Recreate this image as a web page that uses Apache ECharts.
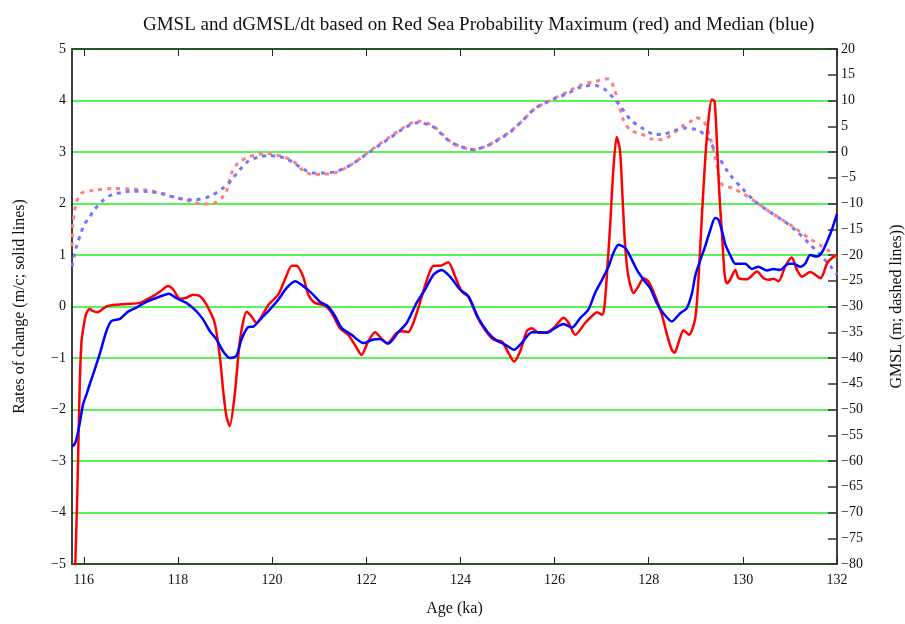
<!DOCTYPE html>
<html>
<head>
<meta charset="utf-8">
<script src="https://cdn.jsdelivr.net/npm/echarts@6/dist/echarts.min.js"></script>
<style>
  html, body { margin: 0; padding: 0; background: #fff; overflow: hidden; width: 905px; height: 624px; }
  #chart { width: 905px; height: 624px; }
</style>
</head>
<body>
<div id="chart"></div>
<script>
// Age axis tick positions (ka)
const ageTicks = [116, 118, 120, 122, 124, 126, 128, 130, 132];

// dGMSL/dt, probability maximum (m per century)
const maxRateAge = [115.78, 115.82, 115.86, 115.89, 115.915, 115.95, 115.985, 116.02, 116.06, 116.13, 116.2, 116.3, 116.4, 116.48, 116.62, 116.91, 117.19, 117.47, 117.62, 117.79, 117.9, 118.04, 118.18, 118.32, 118.47, 118.61, 118.78, 118.89, 118.96, 119.03, 119.1, 119.21, 119.32, 119.46, 119.56, 119.67, 119.78, 119.92, 120.13, 120.27, 120.42, 120.52, 120.66, 120.77, 120.91, 121.12, 121.27, 121.44, 121.62, 121.8, 121.9, 122.04, 122.19, 122.33, 122.44, 122.65, 122.79, 122.89, 123.0, 123.14, 123.29, 123.43, 123.57, 123.74, 123.89, 124.03, 124.17, 124.35, 124.52, 124.7, 124.88, 125.02, 125.14, 125.27, 125.41, 125.52, 125.66, 125.84, 126.01, 126.19, 126.3, 126.44, 126.65, 126.79, 126.9, 127.01, 127.06, 127.11, 127.18, 127.25, 127.32, 127.39, 127.44, 127.5, 127.57, 127.68, 127.78, 127.89, 127.99, 128.14, 128.28, 128.39, 128.49, 128.55, 128.63, 128.74, 128.86, 128.99, 129.06, 129.13, 129.2, 129.27, 129.34, 129.4, 129.45, 129.5, 129.56, 129.61, 129.66, 129.73, 129.84, 129.91, 130.09, 130.3, 130.44, 130.55, 130.65, 130.76, 130.9, 131.04, 131.15, 131.26, 131.43, 131.65, 131.79, 131.93, 132.0];
const maxRate = [-6.5, -5.0, -3.75, -2.5, -1.48, -0.7, -0.45, -0.26, -0.12, -0.05, -0.09, -0.11, -0.05, 0.0, 0.03, 0.05, 0.07, 0.2, 0.29, 0.4, 0.33, 0.15, 0.17, 0.23, 0.2, 0.03, -0.32, -0.97, -1.62, -2.13, -2.32, -1.68, -0.64, -0.1, -0.19, -0.32, -0.19, 0.03, 0.23, 0.52, 0.79, 0.79, 0.58, 0.23, 0.07, 0.02, -0.13, -0.42, -0.55, -0.81, -0.94, -0.68, -0.5, -0.63, -0.72, -0.51, -0.48, -0.5, -0.32, 0.07, 0.52, 0.79, 0.79, 0.86, 0.58, 0.29, 0.19, -0.19, -0.45, -0.64, -0.68, -0.9, -1.07, -0.87, -0.48, -0.42, -0.51, -0.5, -0.39, -0.22, -0.32, -0.55, -0.32, -0.19, -0.11, -0.16, 0.0, 0.58, 1.56, 2.66, 3.29, 3.04, 2.2, 1.17, 0.58, 0.26, 0.39, 0.55, 0.49, 0.2, -0.16, -0.55, -0.84, -0.9, -0.71, -0.46, -0.55, -0.22, 0.58, 1.75, 2.85, 3.63, 4.02, 3.98, 3.17, 2.2, 1.36, 0.65, 0.45, 0.52, 0.71, 0.55, 0.53, 0.68, 0.55, 0.52, 0.54, 0.49, 0.78, 0.95, 0.71, 0.58, 0.67, 0.55, 0.84, 0.97, 1.0];

// dGMSL/dt, probability median (m per century)
const medRateAge = [115.75, 115.8, 115.84, 115.915, 115.985, 116.06, 116.13, 116.23, 116.34, 116.48, 116.59, 116.77, 116.94, 117.12, 117.33, 117.58, 117.81, 117.97, 118.18, 118.39, 118.54, 118.68, 118.82, 118.96, 119.1, 119.24, 119.35, 119.49, 119.6, 119.78, 119.95, 120.13, 120.31, 120.49, 120.63, 120.84, 121.02, 121.19, 121.34, 121.48, 121.69, 121.94, 122.15, 122.29, 122.47, 122.68, 122.86, 123.07, 123.25, 123.43, 123.6, 123.78, 123.99, 124.17, 124.38, 124.59, 124.77, 124.95, 125.14, 125.3, 125.52, 125.68, 125.84, 126.01, 126.19, 126.37, 126.55, 126.72, 126.86, 127.01, 127.15, 127.25, 127.36, 127.5, 127.61, 127.75, 127.89, 128.03, 128.17, 128.31, 128.49, 128.67, 128.81, 128.92, 128.99, 129.1, 129.2, 129.31, 129.41, 129.48, 129.56, 129.63, 129.73, 129.84, 130.05, 130.19, 130.33, 130.51, 130.65, 130.79, 130.97, 131.08, 131.22, 131.33, 131.43, 131.57, 131.68, 131.79, 131.89, 132.0];
const medRate = [-2.72, -2.68, -2.59, -2.26, -1.9, -1.7, -1.5, -1.23, -0.92, -0.48, -0.28, -0.24, -0.1, -0.02, 0.09, 0.18, 0.25, 0.16, 0.07, -0.09, -0.26, -0.48, -0.64, -0.87, -1.0, -0.96, -0.64, -0.4, -0.39, -0.22, -0.06, 0.13, 0.36, 0.49, 0.42, 0.26, 0.09, 0.0, -0.19, -0.42, -0.55, -0.71, -0.64, -0.63, -0.72, -0.5, -0.32, 0.07, 0.33, 0.62, 0.71, 0.58, 0.33, 0.2, -0.22, -0.51, -0.66, -0.74, -0.84, -0.71, -0.5, -0.5, -0.51, -0.42, -0.34, -0.41, -0.22, -0.06, 0.26, 0.52, 0.78, 1.04, 1.2, 1.14, 0.97, 0.71, 0.52, 0.36, 0.07, -0.13, -0.29, -0.13, -0.03, 0.26, 0.6, 0.91, 1.17, 1.49, 1.72, 1.69, 1.46, 1.2, 1.0, 0.83, 0.83, 0.73, 0.77, 0.7, 0.73, 0.71, 0.83, 0.83, 0.77, 0.84, 1.0, 0.97, 1.05, 1.26, 1.49, 1.8];

// GMSL, probability maximum (m)
const maxLevelAge = [115.75, 115.77, 115.84, 115.95, 116.2, 116.62, 116.98, 117.4, 117.83, 118.15, 118.54, 118.75, 118.93, 119.03, 119.14, 119.28, 119.49, 119.67, 119.88, 120.06, 120.27, 120.49, 120.66, 120.87, 121.09, 121.34, 121.62, 121.83, 122.04, 122.26, 122.5, 122.82, 123.1, 123.4, 123.61, 123.78, 123.99, 124.28, 124.56, 124.74, 125.06, 125.31, 125.59, 125.8, 126.01, 126.3, 126.58, 126.86, 127.15, 127.25, 127.36, 127.46, 127.61, 127.86, 128.07, 128.28, 128.49, 128.71, 128.92, 128.99, 129.17, 129.31, 129.45, 129.56, 129.77, 129.98, 130.26, 130.55, 130.83, 131.11, 131.4, 131.68, 131.89, 132.0];
const maxLevel = [-18.3, -14.0, -9.9, -8.0, -7.45, -7.1, -7.2, -7.5, -8.6, -9.3, -10.1, -10.0, -8.9, -7.65, -4.1, -2.1, -1.0, -0.5, -0.3, -0.5, -1.0, -2.1, -3.6, -4.35, -4.3, -4.0, -2.8, -1.5, -0.1, 1.4, 2.9, 4.9, 6.0, 5.2, 3.5, 2.1, 1.1, 0.45, 1.2, 2.1, 4.0, 6.0, 8.5, 9.5, 10.5, 11.8, 13.1, 13.7, 14.2, 12.7, 9.5, 6.3, 4.3, 3.4, 2.5, 2.4, 3.4, 5.0, 6.1, 6.7, 5.9, 2.7, -2.8, -6.35, -7.0, -7.96, -9.6, -11.5, -13.1, -14.8, -16.7, -18.3, -19.6, -20.8];

// GMSL, probability median (m)
const medLevelAge = [115.75, 115.84, 115.95, 116.0, 116.13, 116.2, 116.41, 116.62, 116.84, 116.98, 117.33, 117.69, 117.97, 118.32, 118.68, 118.96, 119.09, 119.14, 119.32, 119.49, 119.71, 119.92, 120.13, 120.31, 120.49, 120.66, 120.87, 121.09, 121.34, 121.62, 122.04, 122.26, 122.5, 122.82, 123.1, 123.4, 123.61, 123.78, 123.99, 124.28, 124.56, 124.74, 125.06, 125.31, 125.59, 125.8, 126.01, 126.3, 126.58, 126.86, 127.08, 127.25, 127.43, 127.61, 127.86, 128.14, 128.35, 128.56, 128.78, 128.97, 129.06, 129.27, 129.48, 129.7, 129.98, 130.26, 130.55, 130.83, 131.11, 131.4, 131.68, 131.89, 132.0];
const medLevel = [-22.2, -18.5, -15.5, -14.2, -12.6, -11.5, -9.4, -8.2, -7.85, -7.6, -7.65, -8.1, -8.9, -9.3, -8.6, -7.0, -6.0, -5.4, -3.4, -1.8, -1.0, -0.7, -0.85, -1.3, -2.3, -3.3, -4.1, -4.1, -3.8, -2.8, -0.2, 1.2, 2.7, 4.7, 5.7, 5.0, 3.4, 2.0, 1.1, 0.45, 1.2, 2.0, 3.9, 6.0, 8.5, 9.5, 10.4, 11.45, 12.7, 12.9, 12.1, 10.5, 8.5, 6.3, 4.65, 3.4, 3.55, 4.2, 4.65, 4.45, 4.3, 2.4, -0.85, -4.1, -7.0, -9.6, -11.5, -13.15, -15.1, -17.7, -20.3, -22.5, -23.8];

const pairs = (xs, ys) => xs.map((x, i) => [x, ys[i]]);
const minus = v => String(v).replace('-', '\u2212');

const serif = 'Liberation Serif, Times New Roman, serif';
const gridGreen = '#22ee22';
const borderGreen = '#1f5a1f';

const chart = echarts.init(document.getElementById('chart'), null, { renderer: 'canvas', width: 905, height: 624 });

chart.setOption({
  backgroundColor: '#ffffff',
  animation: false,
  title: {
    text: 'GMSL and dGMSL/dt based on Red Sea Probability Maximum (red) and Median (blue)',
    left: 138,
    top: 11,
    textStyle: { fontFamily: serif, fontSize: 19, fontWeight: 'normal', color: '#111' }
  },
  grid: { left: 72, right: 68, top: 49, bottom: 60, containLabel: false, outerBoundsMode: 'none' },
  xAxis: [
    {
      type: 'value', min: 115.75, max: 132, position: 'bottom',
      name: 'Age (ka)', nameLocation: 'middle', nameGap: 37,
      nameTextStyle: { fontFamily: serif, fontSize: 16, color: '#111' },
      axisLine: { show: true, onZero: false, lineStyle: { color: borderGreen, width: 2 } },
      axisTick: { show: true, inside: true, length: 7, customValues: ageTicks, lineStyle: { color: '#222', width: 1 } },
      axisLabel: { customValues: ageTicks, margin: 9, fontFamily: serif, fontSize: 14, color: '#111' },
      splitLine: { show: false }
    },
    {
      type: 'value', min: 115.75, max: 132, position: 'top',
      axisLine: { show: true, onZero: false, lineStyle: { color: borderGreen, width: 2 } },
      axisTick: { show: true, inside: true, length: 7, customValues: ageTicks, lineStyle: { color: '#222', width: 1 } },
      axisLabel: { show: false },
      splitLine: { show: false }
    }
  ],
  yAxis: [
    {
      type: 'value', min: -5, max: 5, interval: 1, position: 'left',
      name: 'Rates of change (m/c; solid lines)', nameLocation: 'middle', nameRotate: 90, nameGap: 44,
      nameTextStyle: { fontFamily: serif, fontSize: 16, color: '#111' },
      axisLine: { show: true, onZero: false, lineStyle: { color: '#000', width: 1.5 } },
      axisTick: { show: false },
      axisLabel: { margin: 6, fontFamily: serif, fontSize: 14, color: '#111', formatter: minus },
      splitLine: { show: true, showMinLine: false, showMaxLine: false, lineStyle: { color: gridGreen, width: 1.5 } }
    },
    {
      type: 'value', min: -80, max: 20, interval: 5, position: 'right',
      name: 'GMSL (m; dashed lines))', nameLocation: 'middle', nameRotate: 90, nameGap: 52,
      nameTextStyle: { fontFamily: serif, fontSize: 16, color: '#111' },
      axisLine: { show: true, onZero: false, lineStyle: { color: '#000', width: 1.5 } },
      axisTick: { show: true, inside: true, length: 9, lineStyle: { color: '#333', width: 1.5 } },
      axisLabel: { margin: 4, fontFamily: serif, fontSize: 14, color: '#111', formatter: minus },
      splitLine: { show: false }
    }
  ],
  series: [
    {
      name: 'GMSL maximum', type: 'line', xAxisIndex: 0, yAxisIndex: 1,
      data: pairs(maxLevelAge, maxLevel), showSymbol: false, smooth: 0.3, clip: true,
      lineStyle: { color: '#ff7f7f', width: 3, type: [4, 5] }, z: 2
    },
    {
      name: 'GMSL median', type: 'line', xAxisIndex: 0, yAxisIndex: 1,
      data: pairs(medLevelAge, medLevel), showSymbol: false, smooth: 0.3, clip: true,
      lineStyle: { color: '#7676ff', width: 3, type: [4, 5] }, z: 2
    },
    {
      name: 'Rate maximum', type: 'line', xAxisIndex: 0, yAxisIndex: 0,
      data: pairs(maxRateAge, maxRate), showSymbol: false, smooth: 0.25, clip: true,
      lineStyle: { color: '#ff0000', width: 2.5 }, z: 3
    },
    {
      name: 'Rate median', type: 'line', xAxisIndex: 0, yAxisIndex: 0,
      data: pairs(medRateAge, medRate), showSymbol: false, smooth: 0.25, clip: true,
      lineStyle: { color: '#0000ff', width: 2.5 }, z: 4
    }
  ]
});
</script>
</body>
</html>
